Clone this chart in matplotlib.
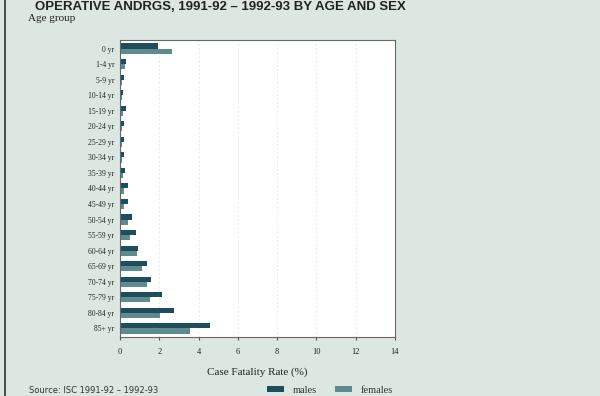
import matplotlib
matplotlib.use("Agg")
import matplotlib.pyplot as plt
import numpy as np

ages = ["0 yr", "1-4 yr", "5-9 yr", "10-14 yr", "15-19 yr", "20-24 yr", "25-29 yr",
        "30-34 yr", "35-39 yr", "40-44 yr", "45-49 yr", "50-54 yr", "55-59 yr",
        "60-64 yr", "65-69 yr", "70-74 yr", "75-79 yr", "80-84 yr", "85+ yr"]
males = [1.95, 0.32, 0.18, 0.14, 0.30, 0.20, 0.20, 0.20, 0.25, 0.42, 0.42, 0.60,
         0.80, 0.90, 1.36, 1.56, 2.12, 2.77, 4.58]
females = [2.63, 0.28, 0.10, 0.10, 0.15, 0.08, 0.10, 0.10, 0.15, 0.20, 0.20, 0.40,
           0.50, 0.88, 1.10, 1.36, 1.53, 2.04, 3.56]
xticks = [0, 2, 4, 6, 8, 10, 12, 14]

bg = "#dce7e2"
male_c = "#1e4e5b"
female_c = "#5e8b92"
serif = ["Liberation Serif", "DejaVu Serif"]

fig = plt.figure(figsize=(6, 3.96), dpi=100, facecolor=bg)
ax = fig.add_axes([0.2, 0.149, 0.458, 0.75])
ax.set_facecolor("white")

y = np.arange(len(ages))
h = 0.33
ax.barh(y - h / 2, males, height=h, color=male_c, label="males")
ax.barh(y + h / 2, females, height=h, color=female_c, label="females")
ax.set_ylim(len(ages) - 0.45, -0.55)
ax.set_xlim(0, 14)
ax.set_yticks(y)
ax.set_yticklabels(ages, fontsize=5.5, family=serif, color="#222222")
ax.set_xticks(xticks)
ax.set_xticklabels([str(t) for t in xticks], fontsize=6, family=serif, color="#222222")
ax.tick_params(axis="y", length=0, pad=4)
ax.tick_params(axis="x", length=2, pad=6, color="#555555")
for x in xticks[1:-1]:
    ax.axvline(x, color="#e2e2e2", lw=0.6, ls=(0, (2, 3)), zorder=0)
for s in ax.spines.values():
    s.set_color("#666666")
    s.set_linewidth(0.8)

ax.set_xlabel("Case Fatality Rate (%)", fontsize=8, family=serif, color="#222222", labelpad=8)

fig.text(0.047, 0.953, "Age group", fontsize=8, family=serif, color="#222222", va="center")
fig.text(0.058, 0.998, "OPERATIVE ANDRGS, 1991-92 \u2013 1992-93 BY AGE AND SEX",
         fontsize=9.5, fontweight="bold", family=["Liberation Sans", "DejaVu Sans"],
         color="#222222", va="top")
fig.text(0.048, 0.013, "Source: ISC 1991-92 \u2013 1992-93", fontsize=6, color="#333333", va="center")

leg = fig.legend(loc="center", bbox_to_anchor=(0.55, 0.015), ncol=2, frameon=False,
                 prop={"family": serif, "size": 7.5}, handlelength=1.6, handleheight=0.6,
                 columnspacing=1.8, handletextpad=0.8)
for t in leg.get_texts():
    t.set_color("#333333")

fig.add_artist(plt.Line2D([0.008, 0.008], [0, 1], color="#333333", lw=1.2, transform=fig.transFigure))

fig.savefig("out.png", dpi=100, facecolor=bg)
